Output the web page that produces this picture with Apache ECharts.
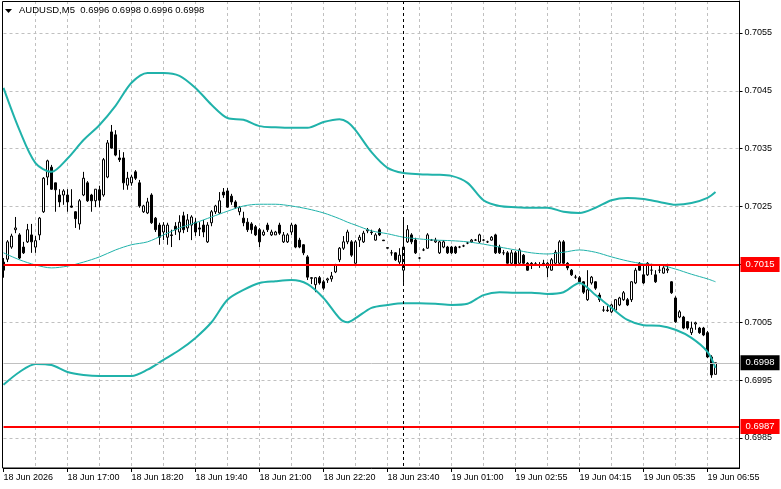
<!DOCTYPE html>
<html>
<head>
<meta charset="utf-8">
<title>AUDUSD,M5</title>
<style>html,body{margin:0;padding:0;background:#fff;}</style>
</head>
<body>
<div id="main" style="width:781px;height:489px;"></div>
<script src="https://cdn.jsdelivr.net/npm/echarts@6/dist/echarts.min.js"></script>
<script>
// M5 bars (bar 0 = 18 Jun 15:40)
var opens = [
 0.70154,0.70159,0.70180,0.70210,0.70201,0.70180,0.70189,0.70201,0.70180,0.70201,
 0.70241,0.70301,0.70318,0.70291,0.70270,0.70270,0.70270,0.70251,0.70241,0.70220,
 0.70270,0.70291,0.70270,0.70260,0.70279,0.70270,0.70301,0.70379,0.70374,0.70334,
 0.70334,0.70287,0.70291,0.70310,0.70291,0.70241,0.70239,0.70270,0.70230,0.70218,
 0.70206,0.70197,0.70201,0.70216,0.70206,0.70234,0.70213,0.70218,0.70223,0.70213,
 0.70218,0.70189,0.70222,0.70241,0.70239,0.70275,0.70277,0.70268,0.70258,0.70241,
 0.70230,0.70223,0.70220,0.70215,0.70210,0.70201,0.70218,0.70201,0.70201,0.70218,
 0.70189,0.70189,0.70206,0.70218,0.70192,0.70184,0.70163,0.70127,0.70115,0.70127,
 0.70120,0.70123,0.70125,0.70137,0.70158,0.70178,0.70189,0.70189,0.70152,0.70192,
 0.70189,0.70208,0.70206,0.70192,0.70210,0.70192,0.70178,0.70170,0.70170,0.70154,
 0.70140,0.70189,0.70201,0.70192,0.70161,0.70175,0.70178,0.70192,0.70189,0.70170,
 0.70180,0.70180,0.70180,0.70180,0.70180,0.70182,0.70187,0.70189,0.70192,0.70189,
 0.70192,0.70189,0.70192,0.70201,0.70180,0.70170,0.70170,0.70152,0.70170,0.70152,
 0.70166,0.70152,0.70152,0.70151,0.70149,0.70151,0.70144,0.70140,0.70152,0.70152,
 0.70189,0.70152,0.70140,0.70128,0.70127,0.70120,0.70089,0.70118,0.70120,0.70097,
 0.70071,0.70071,0.70068,0.70071,0.70080,0.70089,0.70089,0.70089,0.70118,0.70152,
 0.70132,0.70132,0.70140,0.70132,0.70140,0.70135,0.70140,0.70120,0.70092,0.70059,
 0.70059,0.70051,0.70032,0.70047,0.70040,0.70040,0.70032,0.69990,0.69960
];
var closes = [
 0.70140,0.70189,0.70199,0.70213,0.70161,0.70170,0.70210,0.70189,0.70191,0.70230,
 0.70299,0.70329,0.70280,0.70279,0.70258,0.70277,0.70258,0.70249,0.70229,0.70260,
 0.70299,0.70260,0.70260,0.70280,0.70261,0.70331,0.70360,0.70351,0.70339,0.70331,
 0.70291,0.70299,0.70301,0.70299,0.70251,0.70251,0.70258,0.70222,0.70210,0.70197,
 0.70218,0.70218,0.70200,0.70210,0.70223,0.70210,0.70227,0.70232,0.70206,0.70211,
 0.70206,0.70218,0.70241,0.70251,0.70260,0.70270,0.70249,0.70258,0.70249,0.70248,
 0.70222,0.70210,0.70210,0.70201,0.70189,0.70206,0.70210,0.70206,0.70206,0.70204,
 0.70201,0.70201,0.70218,0.70180,0.70180,0.70170,0.70128,0.70126,0.70127,0.70118,
 0.70109,0.70125,0.70130,0.70149,0.70178,0.70189,0.70206,0.70166,0.70189,0.70197,
 0.70204,0.70210,0.70205,0.70201,0.70201,0.70191,0.70179,0.70170,0.70158,0.70166,
 0.70180,0.70210,0.70189,0.70170,0.70161,0.70175,0.70201,0.70192,0.70192,0.70189,
 0.70189,0.70170,0.70170,0.70170,0.70180,0.70182,0.70187,0.70192,0.70192,0.70201,
 0.70192,0.70189,0.70197,0.70170,0.70170,0.70170,0.70152,0.70170,0.70149,0.70175,
 0.70152,0.70140,0.70151,0.70150,0.70149,0.70152,0.70152,0.70158,0.70171,0.70189,
 0.70152,0.70144,0.70132,0.70128,0.70120,0.70102,0.70106,0.70128,0.70109,0.70089,
 0.70071,0.70070,0.70080,0.70089,0.70092,0.70101,0.70080,0.70120,0.70140,0.70140,
 0.70118,0.70152,0.70140,0.70120,0.70140,0.70144,0.70142,0.70101,0.70051,0.70068,
 0.70040,0.70040,0.70040,0.70049,0.70032,0.70028,0.69990,0.69959,0.69980
];
var highs = [
 0.70161,0.70192,0.70203,0.70232,0.70204,0.70189,0.70220,0.70220,0.70199,0.70232,
 0.70301,0.70331,0.70322,0.70291,0.70280,0.70280,0.70280,0.70280,0.70242,0.70263,
 0.70310,0.70294,0.70272,0.70280,0.70286,0.70334,0.70365,0.70391,0.70382,0.70348,
 0.70344,0.70310,0.70305,0.70313,0.70296,0.70253,0.70265,0.70273,0.70232,0.70222,
 0.70223,0.70222,0.70210,0.70223,0.70235,0.70241,0.70237,0.70235,0.70230,0.70223,
 0.70227,0.70223,0.70244,0.70253,0.70275,0.70282,0.70282,0.70272,0.70261,0.70251,
 0.70241,0.70230,0.70223,0.70218,0.70213,0.70210,0.70222,0.70210,0.70208,0.70222,
 0.70206,0.70204,0.70222,0.70220,0.70196,0.70185,0.70166,0.70128,0.70128,0.70130,
 0.70123,0.70127,0.70137,0.70151,0.70180,0.70199,0.70210,0.70192,0.70192,0.70201,
 0.70208,0.70213,0.70210,0.70204,0.70213,0.70192,0.70180,0.70175,0.70171,0.70178,
 0.70230,0.70218,0.70204,0.70196,0.70163,0.70178,0.70204,0.70194,0.70196,0.70191,
 0.70192,0.70182,0.70182,0.70182,0.70182,0.70184,0.70189,0.70194,0.70194,0.70203,
 0.70194,0.70191,0.70199,0.70203,0.70184,0.70175,0.70173,0.70175,0.70173,0.70178,
 0.70168,0.70154,0.70154,0.70154,0.70154,0.70158,0.70154,0.70161,0.70175,0.70192,
 0.70192,0.70154,0.70142,0.70132,0.70130,0.70121,0.70140,0.70130,0.70121,0.70101,
 0.70078,0.70078,0.70082,0.70090,0.70094,0.70104,0.70092,0.70121,0.70144,0.70154,
 0.70149,0.70154,0.70151,0.70140,0.70149,0.70149,0.70151,0.70121,0.70095,0.70071,
 0.70061,0.70052,0.70051,0.70051,0.70042,0.70042,0.70035,0.69993,0.69980
];
var lows = [
 0.70127,0.70154,0.70177,0.70204,0.70159,0.70168,0.70187,0.70170,0.70170,0.70192,
 0.70239,0.70287,0.70279,0.70241,0.70249,0.70253,0.70241,0.70248,0.70213,0.70210,
 0.70268,0.70258,0.70241,0.70249,0.70249,0.70267,0.70299,0.70350,0.70337,0.70327,
 0.70279,0.70279,0.70286,0.70296,0.70248,0.70239,0.70237,0.70220,0.70206,0.70184,
 0.70192,0.70184,0.70180,0.70201,0.70192,0.70204,0.70206,0.70192,0.70199,0.70199,
 0.70197,0.70187,0.70216,0.70237,0.70237,0.70265,0.70248,0.70253,0.70246,0.70235,
 0.70216,0.70206,0.70203,0.70199,0.70180,0.70199,0.70206,0.70199,0.70201,0.70201,
 0.70187,0.70187,0.70201,0.70178,0.70178,0.70166,0.70123,0.70116,0.70102,0.70115,
 0.70106,0.70118,0.70120,0.70135,0.70154,0.70175,0.70185,0.70163,0.70151,0.70180,
 0.70187,0.70204,0.70201,0.70191,0.70199,0.70191,0.70177,0.70165,0.70156,0.70149,
 0.70118,0.70187,0.70185,0.70168,0.70159,0.70173,0.70177,0.70191,0.70187,0.70168,
 0.70178,0.70168,0.70168,0.70168,0.70178,0.70180,0.70185,0.70187,0.70191,0.70187,
 0.70191,0.70187,0.70191,0.70168,0.70168,0.70166,0.70151,0.70151,0.70147,0.70151,
 0.70151,0.70139,0.70142,0.70149,0.70144,0.70147,0.70128,0.70139,0.70151,0.70151,
 0.70151,0.70140,0.70130,0.70125,0.70118,0.70099,0.70087,0.70115,0.70106,0.70085,
 0.70068,0.70068,0.70066,0.70070,0.70078,0.70087,0.70078,0.70085,0.70116,0.70139,
 0.70116,0.70130,0.70132,0.70118,0.70135,0.70134,0.70135,0.70099,0.70049,0.70057,
 0.70038,0.70037,0.70028,0.70037,0.70030,0.70026,0.69988,0.69954,0.69960
];

// band lines, read at these bars
var bandIdx = [0,4,8,12,16,20,24,28,32,36,40,44,48,52,56,60,64,68,72,76,80,84,86,88,
  92,96,100,104,108,112,116,120,124,128,132,136,140,144,148,152,156,160,164,168,172,176,178];
var upperBand = [0.70455,0.70382,0.70325,0.70310,0.70333,0.70365,0.70391,0.70424,0.70464,0.70481,
  0.70481,0.70476,0.70455,0.70426,0.70403,0.70400,0.70389,0.70387,0.70386,0.70386,0.70396,0.70401,
  0.70396,0.70382,0.70344,0.70317,0.70308,0.70306,0.70305,0.70303,0.70291,0.70261,0.70251,0.70249,
  0.70248,0.70248,0.70241,0.70239,0.70248,0.70261,0.70265,0.70263,0.70258,0.70253,0.70256,0.70265,0.70275];
var middleBand = [0.70170,0.70158,0.70149,0.70144,0.70147,0.70154,0.70163,0.70175,0.70184,0.70189,
  0.70201,0.70213,0.70222,0.70232,0.70242,0.70251,0.70254,0.70254,0.70251,0.70246,0.70239,0.70229,
  0.70223,0.70218,0.70208,0.70203,0.70197,0.70194,0.70192,0.70191,0.70189,0.70185,0.70180,0.70175,
  0.70170,0.70168,0.70171,0.70175,0.70171,0.70163,0.70156,0.70151,0.70149,0.70142,0.70133,0.70125,0.70120];
var lowerBand = [0.69942,0.69964,0.69978,0.69976,0.69964,0.69959,0.69957,0.69957,0.69957,0.69968,
  0.69985,0.70002,0.70023,0.70050,0.70089,0.70106,0.70118,0.70121,0.70123,0.70116,0.70092,0.70057,
  0.70050,0.70057,0.70075,0.70080,0.70083,0.70083,0.70082,0.70080,0.70082,0.70097,0.70102,0.70101,
  0.70101,0.70099,0.70102,0.70118,0.70097,0.70075,0.70054,0.70045,0.70044,0.70037,0.70023,0.69999,0.69971];

var tickLabels = ['18 Jun 2026','18 Jun 17:00','18 Jun 18:20','18 Jun 19:40','18 Jun 21:00','18 Jun 22:20',
  '18 Jun 23:40','19 Jun 01:00','19 Jun 02:55','19 Jun 04:15','19 Jun 05:35','19 Jun 06:55'];
var yTicks = [0.6985, 0.6995, 0.7005, 0.7015, 0.7025, 0.7035, 0.7045, 0.7055];
var redLevels = [0.7015, 0.6987];
var bidPrice = 0.6998;
var markerBar = 100;
var titleText = 'AUDUSD,M5  0.6996 0.6998 0.6996 0.6998';

var slotCount = 185; // bars plus empty space on the right
var categories = [];
for (var i = 0; i < slotCount; i++) categories.push(String(i));

var FONT = 'Liberation Sans';
var candles = opens.map(function (o, i) { return [o, closes[i], lows[i], highs[i]]; });

function band(vals, w) {
  return {
    type: 'line', silent: true, symbol: 'none', smooth: 0.3, z: 3,
    data: bandIdx.map(function (k, j) { return [k, vals[j]]; }),
    lineStyle: { color: '#20b2aa', width: w }
  };
}
function levelLine(price, color, width, labelBg) {
  return [
    { coord: [0, price], lineStyle: { color: color, width: width, type: 'solid' },
      label: {
        show: true, position: 'end', distance: 1,
        formatter: price.toFixed(4),
        backgroundColor: labelBg, color: '#ffffff', fontFamily: FONT, fontSize: 9.5,
        padding: [3, 5, 2, 5]
      } },
    { coord: [slotCount - 1, price] }
  ];
}

// horizontal levels and the dashed marker live on their own empty line series
var levels = {
  type: 'line', silent: true, data: [], z: 4, symbol: 'none',
  markLine: {
    silent: true, symbol: ['none', 'none'], animation: false,
    data: [
      levelLine(bidPrice, '#c0c0c0', 1, '#000000'),
      levelLine(redLevels[0], '#ff0000', 2, '#ff0000'),
      levelLine(redLevels[1], '#ff0000', 2, '#ff0000'),
      [ { coord: [markerBar, 0.706053], lineStyle: { color: '#000000', width: 1, type: [3, 3] }, label: { show: false } },
        { coord: [markerBar, 0.697981] } ]
    ]
  }
};

var myChart = echarts.init(document.getElementById('main'));
myChart.setOption({
  animation: false,
  grid: { left: 3.5, right: 41.5, top: 1, bottom: 21 },
  xAxis: {
    type: 'category', data: categories, boundaryGap: false,
    axisLine: { lineStyle: { color: '#000', width: 1 } },
    axisTick: { show: true, length: 4, interval: function (i) { return i % 16 === 0; }, lineStyle: { color: '#000' } },
    axisLabel: {
      interval: function (i) { return i % 16 === 0 && i / 16 < tickLabels.length; },
      formatter: function (v, i) { return tickLabels[i / 16] || ''; },
      align: 'left', margin: 5, color: '#000', fontFamily: FONT, fontSize: 9
    },
    splitLine: { show: true, interval: function (i) { return i % 8 === 0 && i > 0; },
      lineStyle: { color: '#c0c0c0', type: [3, 3], width: 1 } }
  },
  yAxis: {
    type: 'value', position: 'right', scale: true,
    min: 0.697981, max: 0.706053,
    axisLine: { show: true, lineStyle: { color: '#000', width: 1 } },
    axisTick: { show: true, length: 3, customValues: yTicks, lineStyle: { color: '#000' } },
    axisLabel: { customValues: yTicks, margin: 5, color: '#000', fontFamily: FONT, fontSize: 9,
      formatter: function (v) { return v.toFixed(4); } },
    splitLine: { show: true, lineStyle: { color: '#c0c0c0', type: [3, 3], width: 1 } }
  },
  graphic: [
    { type: 'rect', silent: true, z: 100, shape: { x: 2.5, y: 1.5, width: 737, height: 466.5 },
      style: { fill: null, stroke: '#000', lineWidth: 1 } },
    { type: 'polygon', silent: true, z: 100, shape: { points: [[5, 9], [12, 9], [8.5, 13]] }, style: { fill: '#000' } },
    { type: 'text', silent: true, z: 100, left: 19, top: 5,
      style: { text: titleText, fill: '#000', font: '9.5px "Liberation Sans"' } }
  ],
  series: [
    {
      type: 'candlestick', silent: true, data: candles, barWidth: 2, z: 2,
      itemStyle: { color: '#ffffff', color0: '#000000', borderColor: '#000000', borderColor0: '#000000',
        borderColorDoji: '#000000', borderWidth: 1 }
    },
    band(upperBand, 2),
    band(middleBand, 1),
    band(lowerBand, 2),
    levels
  ]
});
</script>
</body>
</html>
